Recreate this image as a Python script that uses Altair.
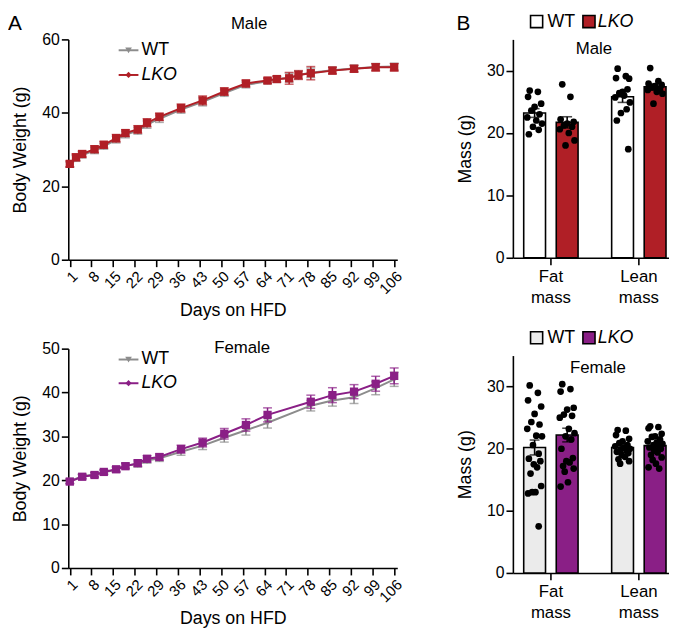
import altair as alt
import pandas as pd

FONT = "Liberation Sans"
RED = "#B01F26"
PURPLE = "#8A1F86"
GRAY = "#8C8C8C"
WT_FILL_F = "#EBEBEB"

TICK_DAYS = [1, 8, 15, 22, 29, 36, 43, 50, 57, 64, 71, 78, 85, 92, 99, 106]

# ---------- Panel A: body weight curves ----------
male_days = [1, 3, 5, 9, 12, 16, 19, 23, 26, 30, 37, 44, 51, 58, 65, 68, 72, 75, 79, 86, 93, 100, 106]
male_wt = [25.9, 27.6, 28.5, 29.7, 30.9, 32.7, 34.1, 35.1, 36.8, 38.4, 40.9, 43.0, 45.4, 47.6,
           48.6, 49.1, 49.6, 50.3, 50.9, 51.6, 52.1, 52.5, 52.6]
male_wt_sem = [0.7, 0.8, 0.8, 0.8, 0.8, 0.9, 0.9, 0.9, 1.0, 1.0, 1.0, 1.1, 0.9, 0.8,
               0.7, 0.8, 1.2, 1.1, 1.3, 0.9, 0.9, 0.9, 0.9]
male_lko = [26.1, 27.9, 28.8, 30.1, 31.3, 33.1, 34.5, 35.5, 37.3, 38.9, 41.3, 43.4, 45.8, 48.0,
            48.8, 49.2, 49.4, 50.3, 50.8, 51.5, 52.0, 52.4, 52.4]
male_lko_sem = [0.8, 0.9, 0.8, 0.9, 0.9, 1.0, 0.9, 1.0, 1.1, 1.0, 1.1, 1.2, 1.0, 0.9,
                0.7, 0.8, 1.6, 1.2, 1.8, 0.9, 0.9, 1.0, 1.0]

female_days = [1, 5, 9, 12, 16, 19, 23, 26, 30, 37, 44, 51, 58, 65, 79, 86, 93, 100, 106]
female_wt = [19.8, 20.9, 21.3, 21.8, 22.4, 23.4, 23.6, 24.5, 25.0, 26.5, 27.9, 29.7, 31.4, 33.1,
             37.0, 38.2, 38.9, 41.0, 43.0]
female_wt_sem = [0.5, 0.5, 0.5, 0.5, 0.5, 0.6, 0.6, 0.6, 0.7, 0.8, 0.9, 1.0, 1.1, 1.2,
                 1.2, 1.3, 1.4, 1.5, 1.6]
female_lko = [19.7, 20.8, 21.2, 21.9, 22.5, 23.2, 23.9, 24.9, 25.3, 27.1, 28.6, 30.6, 32.6, 34.9,
              37.9, 39.4, 40.2, 42.0, 43.8]
female_lko_sem = [0.5, 0.5, 0.5, 0.5, 0.6, 0.6, 0.7, 0.7, 0.7, 0.9, 1.0, 1.2, 1.4, 1.6,
                  1.5, 1.7, 1.6, 1.7, 1.8]

# ---------- Panel B: body composition ----------
bar_cats = ["Fat mass", "Lean mass"]
genotypes = ["WT", "LKO"]

male_bar_wt = [23.2, 25.8]
male_bar_wt_sem = [0.7, 0.9]
male_bar_lko = [21.7, 27.4]
male_bar_lko_sem = [0.9, 0.5]
male_fat_wt = [26.8, 26.6, 25.8, 24.7, 24.2, 23.6, 23.0, 22.5, 22.0, 21.5, 21.0, 20.5, 19.8]
male_fat_lko = [27.8, 25.8, 22.2, 21.8, 21.5, 21.2, 21.0, 20.6, 20.0, 18.8, 18.0]
male_lean_wt = [30.3, 29.1, 28.8, 28.7, 26.6, 26.4, 27.0, 25.7, 26.0, 24.9, 23.2, 23.8, 22.0, 17.4]
male_lean_lko = [30.4, 28.3, 27.9, 27.7, 27.5, 27.3, 27.1, 26.9, 26.6, 26.3, 24.7]

female_bar_wt = [20.2, 20.2]
female_bar_wt_sem = [1.2, 0.4]
female_bar_lko = [22.2, 20.5]
female_bar_lko_sem = [1.1, 0.4]
female_fat_wt = [30.2, 29.0, 27.8, 26.8, 25.6, 24.3, 23.9, 23.2, 22.1, 22.0, 20.6, 19.2, 18.4,
                 18.0, 17.5, 17.0, 16.0, 14.0, 13.0, 13.0, 12.8, 7.5]
female_fat_lko = [30.4, 29.6, 29.2, 26.6, 26.3, 25.5, 25.3, 25.0, 23.2, 22.5, 22.0, 21.5, 20.0,
                  18.5, 18.0, 17.8, 17.2, 16.8, 16.3, 14.6, 13.9]
female_lean_wt = [23.0, 22.9, 22.2, 21.6, 21.2, 20.9, 20.6, 20.4, 20.2, 20.0, 19.9, 19.7, 19.5,
                  19.3, 19.0, 18.7, 18.3, 18.0, 17.6]
female_lean_lko = [23.6, 23.5, 23.3, 22.4, 22.0, 21.9, 21.5, 21.2, 21.0, 20.8, 20.6, 20.4, 20.2,
                   20.0, 19.7, 19.4, 19.0, 18.6, 18.2, 17.6, 17.0, 16.8]

# horizontal scatter of the dots inside each bar (fraction of half bar width)
jitter = [-0.6, 0.4, -0.8, 0.8, 0.0, -0.4, 0.6, -0.9, 0.2, 0.9, -0.2, 0.5, -0.7, 0.7,
          -0.1, 0.3, -0.5, 0.8, -0.3, 0.1, -0.8, 0.5]

# ---------- layout constants ----------
LINE_W = 333
BAR_W = 158
CAT_X = [1, 2]
GENO_OFF = {"WT": -0.18, "LKO": 0.19}
HALF = 0.124


def pix_text(s, x, y, size, italic=False, align="left", baseline="middle"):
    return alt.Chart(pd.DataFrame({"t": [s]})).mark_text(
        font=FONT, fontSize=size, fontStyle="italic" if italic else "normal",
        align=align, baseline=baseline, color="black"
    ).encode(x=alt.value(x), y=alt.value(y), text="t:N")


def line_panel(days, wt, wt_sem, lko, lko_sem, color, ymax, ystep, height,
               title, title_xy, legend_dy, letter=None):
    xs = alt.Scale(domain=[0.5, 107], nice=False, zero=False)
    ys = alt.Scale(domain=[0, ymax], nice=False)
    xa = alt.Axis(values=TICK_DAYS, labelAngle=-45, labelFontSize=15, labelOverlap=False,
                  labelBound=False, title="Days on HFD", titlePadding=5)
    ya = alt.Axis(values=list(range(0, ymax + 1, ystep)), title="Body Weight (g)",
                  titlePadding=12)
    layers = []
    for geno, vals, sems, c in [("WT", wt, wt_sem, GRAY), ("LKO", lko, lko_sem, color)]:
        df = pd.DataFrame({
            "day": days, "mean": vals,
            "lo": [v - s for v, s in zip(vals, sems)],
            "hi": [v + s for v, s in zip(vals, sems)],
        })
        base = alt.Chart(df)
        X = alt.X("day:Q", scale=xs, axis=xa)
        err = base.mark_errorbar(ticks=True, size=9, thickness=1.5, color=c).encode(
            x=X, y=alt.Y("lo:Q", scale=ys, axis=ya), y2="hi:Q")
        line = base.mark_line(color=c, strokeWidth=2).encode(
            x=X, y=alt.Y("mean:Q", scale=ys, axis=ya))
        if geno == "WT":
            pts = base.mark_point(shape="triangle-down", filled=True, size=60,
                                  color=c, opacity=1).encode(
                x=X, y=alt.Y("mean:Q", scale=ys, axis=ya))
        else:
            pts = base.mark_square(size=70, color=c, opacity=1).encode(
                x=X, y=alt.Y("mean:Q", scale=ys, axis=ya))
        layers += [err, line, pts]

    # legend (top-left, inside plot)
    one = pd.DataFrame({"t": [0]})
    for i, (geno, c, shp, sz) in enumerate([("WT", GRAY, "triangle-down", 45),
                                            ("LKO", color, "diamond", 40)]):
        yy = legend_dy[i]
        layers.append(alt.Chart(one).mark_rule(color=c, strokeWidth=2).encode(
            x=alt.value(51), x2=alt.value(71), y=alt.value(yy)))
        layers.append(alt.Chart(one).mark_point(shape=shp, filled=True, size=sz,
                                                color=c, opacity=1).encode(
            x=alt.value(61), y=alt.value(yy)))
        layers.append(pix_text(geno, 74, yy, 18, italic=(geno == "LKO")))
    layers.append(pix_text(title, title_xy[0], title_xy[1], 17, align="center"))
    if letter:
        layers.append(pix_text(letter, -61, -10, 21, baseline="alphabetic"))
    return alt.layer(*layers).properties(width=LINE_W, height=height)


def bar_panel(wt_means, wt_sems, lko_means, lko_sems, dots, wt_fill, color, height,
              title, title_xy, letter=None):
    rows = []
    for i, cat in enumerate(bar_cats):
        for geno, m, s in [("WT", wt_means[i], wt_sems[i]), ("LKO", lko_means[i], lko_sems[i])]:
            cx = CAT_X[i] + GENO_OFF[geno]
            rows.append({"cat": cat, "geno": geno, "mean": m, "lo": m - s, "hi": m + s,
                         "cx": cx, "left": cx - HALF, "right": cx + HALF})
    bdf = pd.DataFrame(rows)
    drows = []
    for (i, geno), vals in dots.items():
        cx = CAT_X[i] + GENO_OFF[geno]
        for k, v in enumerate(vals):
            drows.append({"geno": geno, "val": v, "dx": cx + jitter[k] * HALF * 0.75})
    ddf = pd.DataFrame(drows)

    xs = alt.Scale(domain=[0.573, 2.348], nice=False, zero=False)
    ys = alt.Scale(domain=[0, 35], nice=False)
    label_expr = "split(%s[datum.value - 1], ' ')" % str(bar_cats)
    xa = alt.Axis(values=CAT_X, labelExpr=label_expr, labelAngle=0, labelFontSize=17,
                  labelLineHeight=21, labelPadding=4, labelBaseline="top", title=None)
    ya = alt.Axis(values=[0, 10, 20, 30], title="Mass (g)", titlePadding=12)
    fill = alt.Scale(domain=genotypes, range=[wt_fill, color])

    bars = alt.Chart(bdf).mark_bar(stroke="black", strokeWidth=1.6, opacity=1).encode(
        x=alt.X("left:Q", scale=xs, axis=xa), x2="right:Q",
        y=alt.Y("mean:Q", scale=ys, axis=ya), y2=alt.datum(0),
        fill=alt.Fill("geno:N", scale=fill, legend=None))
    pts = alt.Chart(ddf).mark_circle(size=46, color="black", opacity=1).encode(
        x=alt.X("dx:Q", scale=xs, axis=xa), y=alt.Y("val:Q", scale=ys, axis=ya))
    err = alt.Chart(bdf).mark_errorbar(ticks=True, size=10, thickness=1.6, color="black").encode(
        x=alt.X("cx:Q", scale=xs, axis=xa), y=alt.Y("lo:Q", scale=ys, axis=ya), y2="hi:Q")

    layers = [bars, pts, err]
    one = pd.DataFrame({"t": [0]})
    for geno, f, sx, tx in [("WT", wt_fill, 24, 35), ("LKO", color, 77, 86)]:
        layers.append(alt.Chart(one).mark_square(size=150, fill=f, stroke="black",
                                                 strokeWidth=1.6, opacity=1).encode(
            x=alt.value(sx), y=alt.value(-18)))
        layers.append(pix_text(geno, tx, -18, 18, italic=(geno == "LKO")))
    layers.append(pix_text(title, title_xy[0], title_xy[1], 17, align="center"))
    if letter:
        layers.append(pix_text(letter, -57, -10, 21, baseline="alphabetic"))
    return alt.layer(*layers).properties(width=BAR_W, height=height)


line_m = line_panel(male_days, male_wt, male_wt_sem, male_lko, male_lko_sem, RED,
                    60, 20, 223, "Male", (183, -16), (11, 36), letter="A")
line_f = line_panel(female_days, female_wt, female_wt_sem, female_lko, female_lko_sem, PURPLE,
                    50, 10, 222, "Female", (176, -1), (11, 35))
bar_m = bar_panel(male_bar_wt, male_bar_wt_sem, male_bar_lko, male_bar_lko_sem,
                  {(0, "WT"): male_fat_wt, (0, "LKO"): male_fat_lko,
                   (1, "WT"): male_lean_wt, (1, "LKO"): male_lean_lko},
                  "white", RED, 221, "Male", (82, 10), letter="B")
bar_f = bar_panel(female_bar_wt, female_bar_wt_sem, female_bar_lko, female_bar_lko_sem,
                  {(0, "WT"): female_fat_wt, (0, "LKO"): female_fat_lko,
                   (1, "WT"): female_lean_wt, (1, "LKO"): female_lean_lko},
                  WT_FILL_F, PURPLE, 220, "Female", (86, 13))

col1 = alt.vconcat(line_m, line_f, spacing=90, bounds="flush")
col2 = alt.vconcat(bar_m, bar_f, spacing=99, bounds="flush").resolve_scale(fill="independent")
chart = alt.hconcat(col1, col2, spacing=52).resolve_scale(fill="independent").configure_axis(
    domainColor="black", tickColor="black", domainWidth=1.6, tickWidth=1.6, tickSize=7,
    labelFont=FONT, labelFontSize=16, labelColor="black", titleFont=FONT,
    titleFontSize=18, titleFontWeight="normal", titleColor="black", grid=False,
    labelPadding=2
).configure_view(stroke=None).properties(
    padding={"left": 0, "top": 0, "right": 0, "bottom": 0}
)

chart.save("out.html", embed_options={"renderer": "svg", "actions": False})
